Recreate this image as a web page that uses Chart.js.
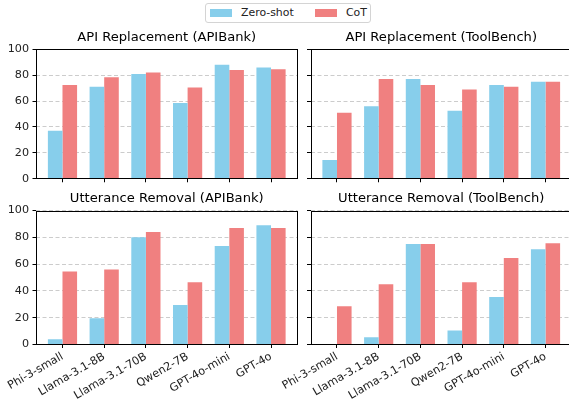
<!DOCTYPE html>
<html>
<head>
<meta charset="utf-8">
<script src="https://cdn.jsdelivr.net/npm/chart.js@4/dist/chart.umd.min.js"></script>
<style>
  html, body { margin: 0; padding: 0; background: #fff; }
  body { width: 569px; height: 405px; position: relative; overflow: hidden; font-family: 'DejaVu Sans', sans-serif; }
  canvas { position: absolute; }
  #legend { position: absolute; left: 205px; top: 3px; width: 164px; height: 18px; border: 1px solid #d4d4d4; border-radius: 3px; font-size: 10.9px; color: #222; }
  #legend .sw { position: absolute; top: 5px; width: 22px; height: 7.5px; }
  #legend .lb { position: absolute; top: 2px; line-height: 13px; }
</style>
</head>
<body>
<div id="legend">
  <span class="sw" style="left:4px;background:#87ceeb"></span><span class="lb" style="left:35px">Zero-shot</span>
  <span class="sw" style="left:109px;background:#f08080"></span><span class="lb" style="left:140px">CoT</span>
</div>
<canvas id="c1" width="300" height="161" style="left:0;top:28px"></canvas>
<canvas id="c2" width="310" height="161" style="left:270px;top:28px"></canvas>
<canvas id="c3" width="300" height="215" style="left:0;top:190px"></canvas>
<canvas id="c4" width="310" height="215" style="left:270px;top:190px"></canvas>
<script>
// models on the x axis
const models = ['Phi-3-small', 'Llama-3.1-8B', 'Llama-3.1-70B', 'Qwen2-7B', 'GPT-4o-mini', 'GPT-4o'];
const seriesNames = ['Zero-shot', 'CoT'];
const yTicks = [0, 20, 40, 60, 80, 100];

// API Replacement
const apiBankReplZero = [37, 71, 81, 58.5, 88, 86];
const apiBankReplCot = [72.5, 78.5, 82, 70.5, 84, 84.5];
const toolBenchReplZero = [14.5, 56, 77, 52.5, 72.5, 75];
const toolBenchReplCot = [51, 77, 72.5, 69, 71, 75];

// Utterance Removal
const apiBankRemZero = [4, 19.5, 80, 29.5, 73.5, 89];
const apiBankRemCot = [54.5, 56, 84, 46.5, 87, 87];
const toolBenchRemZero = [0, 5.5, 75, 10.5, 35.5, 71];
const toolBenchRemCot = [28.5, 45, 75, 46.5, 64.5, 75.5];

const FONT = "'DejaVu Sans', sans-serif";
Chart.defaults.font.family = FONT;
Chart.defaults.color = '#222';

// full axes box drawn over the bars, plus the title centred on the plot area
const boxPlugin = {
    id: 'box',
    afterDatasetsDraw(chart, args, opts) {
        const a = chart.chartArea;
        const ctx = chart.ctx;
        ctx.save();
        ctx.strokeStyle = '#000';
        ctx.lineWidth = 1;
        const l = Math.round(a.left) + 0.5, t = Math.round(a.top) + 0.5;
        const r = Math.round(a.right) - 0.5, b = Math.round(a.bottom) - 0.5;
        ctx.strokeRect(l, t, r - l, b - t);
        ctx.fillStyle = '#000';
        ctx.font = opts.size + 'px ' + FONT;
        ctx.textAlign = 'center';
        ctx.textBaseline = 'alphabetic';
        ctx.fillText(opts.text, (a.left + a.right) / 2, a.top - opts.gap);
        ctx.restore();
    }
};

function toPoints(values) {
    return values.map((v, i) => ({ x: i, y: v }));
}

function makePanel(id, title, zero, cot, opts) {
    const ctx = document.getElementById(id).getContext('2d');
    return new Chart(ctx, {
        type: 'bar',
        data: {
            datasets: [
                { label: seriesNames[0], data: toPoints(zero), backgroundColor: '#87ceeb', borderWidth: 0 },
                { label: seriesNames[1], data: toPoints(cot), backgroundColor: '#f08080', borderWidth: 0 }
            ]
        },
        options: {
            responsive: false,
            animation: false,
            devicePixelRatio: 1,
            layout: { autoPadding: false, padding: { left: 0, right: opts.padRight, top: opts.padTop, bottom: 0 } },
            datasets: { bar: { barPercentage: 1, categoryPercentage: 0.7 } },
            plugins: {
                legend: { display: false },
                tooltip: { enabled: false },
                title: { display: false },
                box: { text: title, size: 13.1, gap: 8.5 }
            },
            scales: {
                x: {
                    type: 'linear',
                    offset: false,
                    bounds: 'data',
                    min: -0.635,
                    max: models.length - 1 + 0.635,
                    afterBuildTicks: s => { s.ticks = models.map((_, i) => ({ value: i })); },
                    afterFit: s => { s.height = opts.xHeight; },
                    grid: { display: true, offset: false, drawOnChartArea: false, drawTicks: true, tickLength: 3.5, tickColor: '#000' },
                    border: { display: false },
                    ticks: {
                        autoSkip: false,
                        minRotation: opts.showX ? 30 : 0,
                        maxRotation: opts.showX ? 30 : 0,
                        padding: 2,
                        font: { size: 11.2 },
                        callback: v => opts.showX ? models[v] : ''
                    }
                },
                y: {
                    min: 0,
                    max: 100,
                    afterBuildTicks: s => { s.ticks = yTicks.map(v => ({ value: v })); },
                    afterFit: s => { s.width = opts.yWidth; },
                    grid: { color: '#cccccc', lineWidth: 1, tickLength: 3.5, tickColor: '#000', tickBorderDash: [] },
                    border: { display: false, dash: [4, 2.5] },
                    ticks: {
                        padding: 3.5,
                        font: { size: 11.2 },
                        callback: v => opts.showY ? v : ''
                    }
                }
            }
        },
        plugins: [boxPlugin]
    });
}

makePanel('c1', 'API Replacement (APIBank)', apiBankReplZero, apiBankReplCot,
    { yWidth: 36, padRight: 2.5, padTop: 21.3, xHeight: 5.7, showX: false, showY: true });
makePanel('c2', 'API Replacement (ToolBench)', toolBenchReplZero, toolBenchReplCot,
    { yWidth: 40.5, padRight: 8, padTop: 21.3, xHeight: 5.7, showX: false, showY: false });
makePanel('c3', 'Utterance Removal (APIBank)', apiBankRemZero, apiBankRemCot,
    { yWidth: 36, padRight: 2.5, padTop: 20.5, xHeight: 60.5, showX: true, showY: true });
makePanel('c4', 'Utterance Removal (ToolBench)', toolBenchRemZero, toolBenchRemCot,
    { yWidth: 40.5, padRight: 8, padTop: 20.5, xHeight: 60.5, showX: true, showY: false });
</script>
</body>
</html>
